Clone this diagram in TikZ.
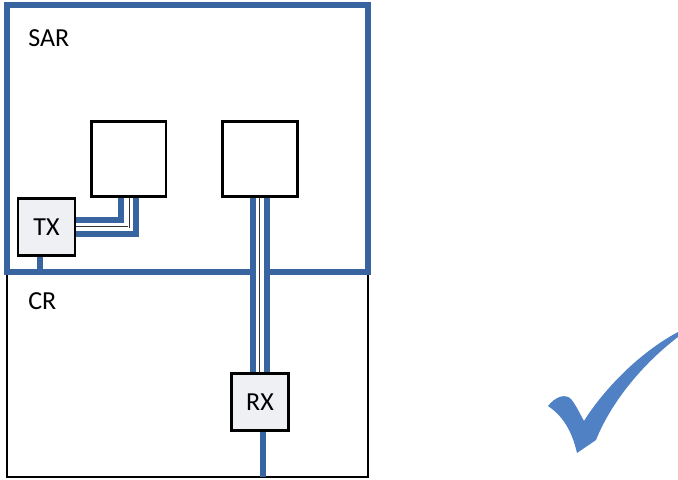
\documentclass[tikz,border=0pt]{standalone}
\usepackage{fontspec}
\setsansfont{Carlito}
\usetikzlibrary{positioning,shadows,backgrounds}
\definecolor{wireblue}{RGB}{56,101,159}
\definecolor{tickblue}{RGB}{79,129,196}
\definecolor{boxgray}{RGB}{238,240,244}

\begin{document}
\begin{tikzpicture}[x=0.75pt, y=-0.75pt, every node/.style={font=\sffamily\fontsize{19.5}{22}\selectfont},
    box/.style={draw, line width=2pt, fill=white, minimum width=56pt, minimum height=56pt, inner sep=0pt},
    port/.style={draw, line width=1.8pt, fill=boxgray, minimum size=42.5pt, inner sep=0pt,
      drop shadow={shadow xshift=1.2pt, shadow yshift=-1.2pt, opacity=0.3}},
    wire/.style={draw=wireblue, line width=3.8pt},
    coax/.style={draw=wireblue, line width=15.5pt, postaction={draw=white, line width=6.5pt},
      postaction={draw=black!80, line width=0.4pt, double=white, double distance=0.7pt}}]
      \useasboundingbox (0,0) rectangle (678,479);
      \node[box] (ant1) at (128.5,159) {};
      \node[box] (ant2) at (260,159) {};
      \node[port] (tx) at (46.5,227) {TX};
      \node[port] (rx) at (260,402) {RX};
      \node[anchor=base west, inner sep=0pt] (sar) at (28,46) {SAR};
      \node[anchor=base west, inner sep=0pt] (cr) at (28,309) {CR};
      \coordinate (txgnd) at (40,272);
      \coordinate (rxgnd) at (263,477);
      \begin{scope}[on background layer]
        \draw[line width=1.6pt] (7,272) rectangle (368,477);
        \draw[wire] (7,5) rectangle (368,272);
        \draw[coax] (tx.east) -| (ant1.south);
        \draw[coax] (ant2.south) -- (rx.north);
        \draw[wire] (tx.south -| txgnd) -- (txgnd);
        \draw[wire] (rx.south -| rxgnd) -- (rxgnd);
      \end{scope}
      \fill[tickblue] (548,406) .. controls (555,397) and (565,393) .. (571,399)
        .. controls (576,405) and (580,414) .. (584,421)
        .. controls (600,395) and (635,355) .. (678,332) -- (678,337)
        .. controls (645,362) and (612,400) .. (596,440) -- (577,453)
        .. controls (573,436) and (566,418) .. cycle;
    \end{tikzpicture}
\end{document}
